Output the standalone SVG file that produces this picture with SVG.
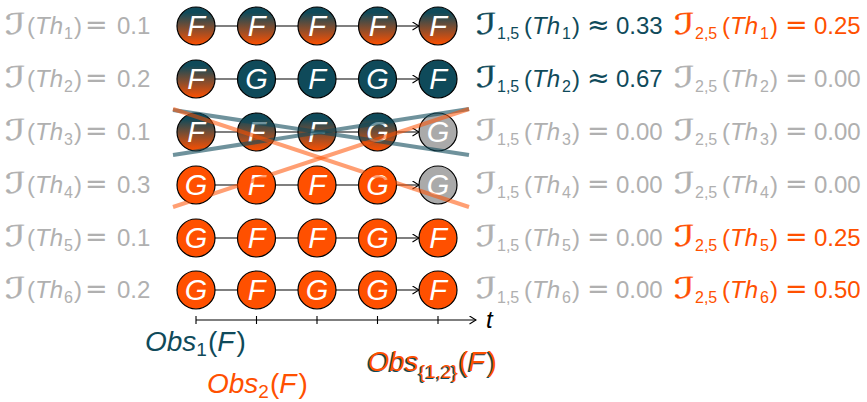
<svg xmlns="http://www.w3.org/2000/svg" width="867" height="402" viewBox="0 0 867 402">
<defs>
<linearGradient id="grad" x1="0" y1="0" x2="0" y2="1">
<stop offset="0.15" stop-color="#0f4a5a"/>
<stop offset="1" stop-color="#ff5000"/>
</linearGradient>
<marker id="arr" markerWidth="9" markerHeight="9" refX="8" refY="4.5" orient="auto" markerUnits="userSpaceOnUse">
<path d="M1.5,0.5 L8,4.5 L1.5,8.5" fill="none" stroke="#000" stroke-width="1.1"/>
</marker>
<text id="cI" style="font-family:'DejaVu Sans',sans-serif;font-size:29px;stroke-width:0.3">ℐ</text>
</defs>
<style>
text{font-family:"Liberation Sans","DejaVu Sans",sans-serif;font-size:24px}
.it{font-style:italic}
.sub{font-size:16px}
.m{font-family:"DejaVu Sans",sans-serif;font-size:27px}
.gray{fill:#b0b0b0;stroke:#b0b0b0}
.teal{fill:#0f4a5a;stroke:#0f4a5a}
.orng{fill:#ff5000;stroke:#ff5000}
.gray text,.teal text,.orng text,text.gray,text.teal,text.orng{stroke:none}
.nd circle{stroke:#000;stroke-width:1.2}
.g{fill:url(#grad)}
.t{fill:#0f4a5a}
.o{fill:#ff5000}
.x{fill:#aaaaaa}
.lbl{fill:#fff;font-style:italic;font-size:29px;text-anchor:middle}
.edge{stroke:#000;stroke-width:1.1;fill:none;marker-end:url(#arr)}
.tl{stroke:#0f4a5a;stroke-opacity:0.6;stroke-width:4}
.ol{stroke:#ff5000;stroke-opacity:0.55;stroke-width:4}
.ob{font-size:28px}
.obs{font-size:19px}
</style>

<!-- left labels -->
<g id="left-labels">
<g class="gray"><use href="#cI" transform="translate(5,34) scale(1.5,1)"/><text y="34"><tspan x="27">(</tspan><tspan x="35" class="it">Th</tspan><tspan x="64" class="sub" dy="5">1</tspan><tspan x="74" dy="-5">)</tspan><tspan x="85" class="m">=</tspan><tspan x="117">0.1</tspan></text></g>
<g class="gray"><use href="#cI" transform="translate(5,87) scale(1.5,1)"/><text y="87"><tspan x="27">(</tspan><tspan x="35" class="it">Th</tspan><tspan x="64" class="sub" dy="5">2</tspan><tspan x="74" dy="-5">)</tspan><tspan x="85" class="m">=</tspan><tspan x="117">0.2</tspan></text></g>
<g class="gray"><use href="#cI" transform="translate(5,140) scale(1.5,1)"/><text y="140"><tspan x="27">(</tspan><tspan x="35" class="it">Th</tspan><tspan x="64" class="sub" dy="5">3</tspan><tspan x="74" dy="-5">)</tspan><tspan x="85" class="m">=</tspan><tspan x="117">0.1</tspan></text></g>
<g class="gray"><use href="#cI" transform="translate(5,193) scale(1.5,1)"/><text y="193"><tspan x="27">(</tspan><tspan x="35" class="it">Th</tspan><tspan x="64" class="sub" dy="5">4</tspan><tspan x="74" dy="-5">)</tspan><tspan x="85" class="m">=</tspan><tspan x="117">0.3</tspan></text></g>
<g class="gray"><use href="#cI" transform="translate(5,246) scale(1.5,1)"/><text y="246"><tspan x="27">(</tspan><tspan x="35" class="it">Th</tspan><tspan x="64" class="sub" dy="5">5</tspan><tspan x="74" dy="-5">)</tspan><tspan x="85" class="m">=</tspan><tspan x="117">0.1</tspan></text></g>
<g class="gray"><use href="#cI" transform="translate(5,298) scale(1.5,1)"/><text y="298"><tspan x="27">(</tspan><tspan x="35" class="it">Th</tspan><tspan x="64" class="sub" dy="5">6</tspan><tspan x="74" dy="-5">)</tspan><tspan x="85" class="m">=</tspan><tspan x="117">0.2</tspan></text></g>
</g>

<!-- connectors -->
<g id="connectors">
<path class="edge" d="M215,26H237.5M275.5,26H298M336,26H358.5M396.5,26H419"/>
<path class="edge" d="M215,79H237.5M275.5,79H298M336,79H358.5M396.5,79H419"/>
<path class="edge" d="M215,132H237.5M275.5,132H298M336,132H358.5M396.5,132H419"/>
<path class="edge" d="M215,185H237.5M275.5,185H298M336,185H358.5M396.5,185H419"/>
<path class="edge" d="M215,238H237.5M275.5,238H298M336,238H358.5M396.5,238H419"/>
<path class="edge" d="M215,290H237.5M275.5,290H298M336,290H358.5M396.5,290H419"/>
</g>

<!-- nodes -->
<g id="row1" class="nd">
<g id="n11"><circle class="g" cx="196" cy="26" r="19"/><text class="lbl" x="196" y="36">F</text></g>
<g id="n12"><circle class="g" cx="256.5" cy="26" r="19"/><text class="lbl" x="256.5" y="36">F</text></g>
<g id="n13"><circle class="g" cx="317" cy="26" r="19"/><text class="lbl" x="317" y="36">F</text></g>
<g id="n14"><circle class="g" cx="377.5" cy="26" r="19"/><text class="lbl" x="377.5" y="36">F</text></g>
<g id="n15"><circle class="g" cx="438" cy="26" r="19"/><text class="lbl" x="438" y="36">F</text></g>
</g>
<g id="row2" class="nd">
<g id="n21"><circle class="g" cx="196" cy="79" r="19"/><text class="lbl" x="196" y="89">F</text></g>
<g id="n22"><circle class="t" cx="256.5" cy="79" r="19"/><text class="lbl" x="256.5" y="89">G</text></g>
<g id="n23"><circle class="t" cx="317" cy="79" r="19"/><text class="lbl" x="317" y="89">F</text></g>
<g id="n24"><circle class="t" cx="377.5" cy="79" r="19"/><text class="lbl" x="377.5" y="89">G</text></g>
<g id="n25"><circle class="t" cx="438" cy="79" r="19"/><text class="lbl" x="438" y="89">F</text></g>
</g>
<g id="row3" class="nd">
<g id="n31"><circle class="g" cx="196" cy="132" r="19"/><text class="lbl" x="196" y="142">F</text></g>
<g id="n32"><circle class="g" cx="256.5" cy="132" r="19"/><text class="lbl" x="256.5" y="142">F</text></g>
<g id="n33"><circle class="g" cx="317" cy="132" r="19"/><text class="lbl" x="317" y="142">F</text></g>
<g id="n34"><circle class="g" cx="377.5" cy="132" r="19"/><text class="lbl" x="377.5" y="142">G</text></g>
<g id="n35"><circle class="x" cx="438" cy="132" r="19"/><text class="lbl" x="438" y="142">G</text></g>
</g>
<g id="row4" class="nd">
<g id="n41"><circle class="o" cx="196" cy="185" r="19"/><text class="lbl" x="196" y="195">G</text></g>
<g id="n42"><circle class="o" cx="256.5" cy="185" r="19"/><text class="lbl" x="256.5" y="195">F</text></g>
<g id="n43"><circle class="o" cx="317" cy="185" r="19"/><text class="lbl" x="317" y="195">F</text></g>
<g id="n44"><circle class="o" cx="377.5" cy="185" r="19"/><text class="lbl" x="377.5" y="195">G</text></g>
<g id="n45"><circle class="x" cx="438" cy="185" r="19"/><text class="lbl" x="438" y="195">G</text></g>
</g>
<g id="row5" class="nd">
<g id="n51"><circle class="o" cx="196" cy="238" r="19"/><text class="lbl" x="196" y="248">G</text></g>
<g id="n52"><circle class="o" cx="256.5" cy="238" r="19"/><text class="lbl" x="256.5" y="248">F</text></g>
<g id="n53"><circle class="o" cx="317" cy="238" r="19"/><text class="lbl" x="317" y="248">F</text></g>
<g id="n54"><circle class="o" cx="377.5" cy="238" r="19"/><text class="lbl" x="377.5" y="248">G</text></g>
<g id="n55"><circle class="o" cx="438" cy="238" r="19"/><text class="lbl" x="438" y="248">F</text></g>
</g>
<g id="row6" class="nd">
<g id="n61"><circle class="o" cx="196" cy="290" r="19"/><text class="lbl" x="196" y="300">G</text></g>
<g id="n62"><circle class="o" cx="256.5" cy="290" r="19"/><text class="lbl" x="256.5" y="300">F</text></g>
<g id="n63"><circle class="o" cx="317" cy="290" r="19"/><text class="lbl" x="317" y="300">G</text></g>
<g id="n64"><circle class="o" cx="377.5" cy="290" r="19"/><text class="lbl" x="377.5" y="300">G</text></g>
<g id="n65"><circle class="o" cx="438" cy="290" r="19"/><text class="lbl" x="438" y="300">F</text></g>
</g>

<!-- crossing lines -->
<g id="crosses">
<line class="tl" x1="173" y1="110" x2="469" y2="155"/>
<line class="tl" x1="173" y1="155" x2="469" y2="109"/>
<line class="ol" x1="173" y1="109" x2="469" y2="207"/>
<line class="ol" x1="173" y1="207" x2="469" y2="109"/>
</g>

<!-- right labels -->
<g id="right-labels">
<g class="teal"><use href="#cI" transform="translate(476,34) scale(1.5,1)"/><text y="34"><tspan x="497" class="sub" dy="5">1,5</tspan><tspan x="524" dy="-5">(</tspan><tspan x="532" class="it">Th</tspan><tspan x="562" class="sub" dy="5">1</tspan><tspan x="572" dy="-5">)</tspan><tspan x="587" class="m">≈</tspan><tspan x="616">0.33</tspan></text></g>
<g class="orng"><use href="#cI" transform="translate(674,34) scale(1.5,1)"/><text y="34"><tspan x="695" class="sub" dy="5">2,5</tspan><tspan x="722" dy="-5">(</tspan><tspan x="730" class="it">Th</tspan><tspan x="760" class="sub" dy="5">1</tspan><tspan x="770" dy="-5">)</tspan><tspan x="785" class="m">=</tspan><tspan x="814">0.25</tspan></text></g>
<g class="teal"><use href="#cI" transform="translate(476,87) scale(1.5,1)"/><text y="87"><tspan x="497" class="sub" dy="5">1,5</tspan><tspan x="524" dy="-5">(</tspan><tspan x="532" class="it">Th</tspan><tspan x="562" class="sub" dy="5">2</tspan><tspan x="572" dy="-5">)</tspan><tspan x="587" class="m">≈</tspan><tspan x="616">0.67</tspan></text></g>
<g class="gray"><use href="#cI" transform="translate(674,87) scale(1.5,1)"/><text y="87"><tspan x="695" class="sub" dy="5">2,5</tspan><tspan x="722" dy="-5">(</tspan><tspan x="730" class="it">Th</tspan><tspan x="760" class="sub" dy="5">2</tspan><tspan x="770" dy="-5">)</tspan><tspan x="785" class="m">=</tspan><tspan x="814">0.00</tspan></text></g>
<g class="gray"><use href="#cI" transform="translate(476,140) scale(1.5,1)"/><text y="140"><tspan x="497" class="sub" dy="5">1,5</tspan><tspan x="524" dy="-5">(</tspan><tspan x="532" class="it">Th</tspan><tspan x="562" class="sub" dy="5">3</tspan><tspan x="572" dy="-5">)</tspan><tspan x="587" class="m">=</tspan><tspan x="616">0.00</tspan></text></g>
<g class="gray"><use href="#cI" transform="translate(674,140) scale(1.5,1)"/><text y="140"><tspan x="695" class="sub" dy="5">2,5</tspan><tspan x="722" dy="-5">(</tspan><tspan x="730" class="it">Th</tspan><tspan x="760" class="sub" dy="5">3</tspan><tspan x="770" dy="-5">)</tspan><tspan x="785" class="m">=</tspan><tspan x="814">0.00</tspan></text></g>
<g class="gray"><use href="#cI" transform="translate(476,193) scale(1.5,1)"/><text y="193"><tspan x="497" class="sub" dy="5">1,5</tspan><tspan x="524" dy="-5">(</tspan><tspan x="532" class="it">Th</tspan><tspan x="562" class="sub" dy="5">4</tspan><tspan x="572" dy="-5">)</tspan><tspan x="587" class="m">=</tspan><tspan x="616">0.00</tspan></text></g>
<g class="gray"><use href="#cI" transform="translate(674,193) scale(1.5,1)"/><text y="193"><tspan x="695" class="sub" dy="5">2,5</tspan><tspan x="722" dy="-5">(</tspan><tspan x="730" class="it">Th</tspan><tspan x="760" class="sub" dy="5">4</tspan><tspan x="770" dy="-5">)</tspan><tspan x="785" class="m">=</tspan><tspan x="814">0.00</tspan></text></g>
<g class="gray"><use href="#cI" transform="translate(476,246) scale(1.5,1)"/><text y="246"><tspan x="497" class="sub" dy="5">1,5</tspan><tspan x="524" dy="-5">(</tspan><tspan x="532" class="it">Th</tspan><tspan x="562" class="sub" dy="5">5</tspan><tspan x="572" dy="-5">)</tspan><tspan x="587" class="m">=</tspan><tspan x="616">0.00</tspan></text></g>
<g class="orng"><use href="#cI" transform="translate(674,246) scale(1.5,1)"/><text y="246"><tspan x="695" class="sub" dy="5">2,5</tspan><tspan x="722" dy="-5">(</tspan><tspan x="730" class="it">Th</tspan><tspan x="760" class="sub" dy="5">5</tspan><tspan x="770" dy="-5">)</tspan><tspan x="785" class="m">=</tspan><tspan x="814">0.25</tspan></text></g>
<g class="gray"><use href="#cI" transform="translate(476,298) scale(1.5,1)"/><text y="298"><tspan x="497" class="sub" dy="5">1,5</tspan><tspan x="524" dy="-5">(</tspan><tspan x="532" class="it">Th</tspan><tspan x="562" class="sub" dy="5">6</tspan><tspan x="572" dy="-5">)</tspan><tspan x="587" class="m">=</tspan><tspan x="616">0.00</tspan></text></g>
<g class="orng"><use href="#cI" transform="translate(674,298) scale(1.5,1)"/><text y="298"><tspan x="695" class="sub" dy="5">2,5</tspan><tspan x="722" dy="-5">(</tspan><tspan x="730" class="it">Th</tspan><tspan x="760" class="sub" dy="5">6</tspan><tspan x="770" dy="-5">)</tspan><tspan x="785" class="m">=</tspan><tspan x="814">0.50</tspan></text></g>
</g>

<!-- time axis -->
<g id="axis">
<line x1="196" y1="320" x2="476" y2="320" stroke="#000" stroke-width="1.1" marker-end="url(#arr)"/>
<path d="M196,316V324M256.5,316V324M317,316V324M377.5,316V324M438,316V324" stroke="#000" stroke-width="1.1"/>
<text x="486" y="328" class="it" fill="#000">t</text>
</g>

<!-- observation labels -->
<g id="obs">
<text y="351" class="teal"><tspan x="145" class="it ob">Obs</tspan><tspan class="obs" dy="5">1</tspan><tspan class="ob" dy="-5" dx="1">(</tspan><tspan class="it ob">F</tspan><tspan class="ob" dx="2">)</tspan></text>
<text y="393" class="orng"><tspan x="207" class="it ob">Obs</tspan><tspan class="obs" dy="5">2</tspan><tspan class="ob" dy="-5" dx="1">(</tspan><tspan class="it ob">F</tspan><tspan class="ob" dx="2">)</tspan></text>
<text y="372" class="teal"><tspan x="366" class="it ob">Obs</tspan><tspan class="obs" dy="7" font-size="21">{1,2}</tspan><tspan class="ob" dy="-7" dx="1">(</tspan><tspan class="it ob">F</tspan><tspan class="ob" dx="2">)</tspan></text>
<text y="370.5" class="orng"><tspan x="367.5" class="it ob">Obs</tspan><tspan class="obs" dy="7" font-size="21">{1,2}</tspan><tspan class="ob" dy="-7" dx="1">(</tspan><tspan class="it ob">F</tspan><tspan class="ob" dx="2">)</tspan></text>
</g>
</svg>
